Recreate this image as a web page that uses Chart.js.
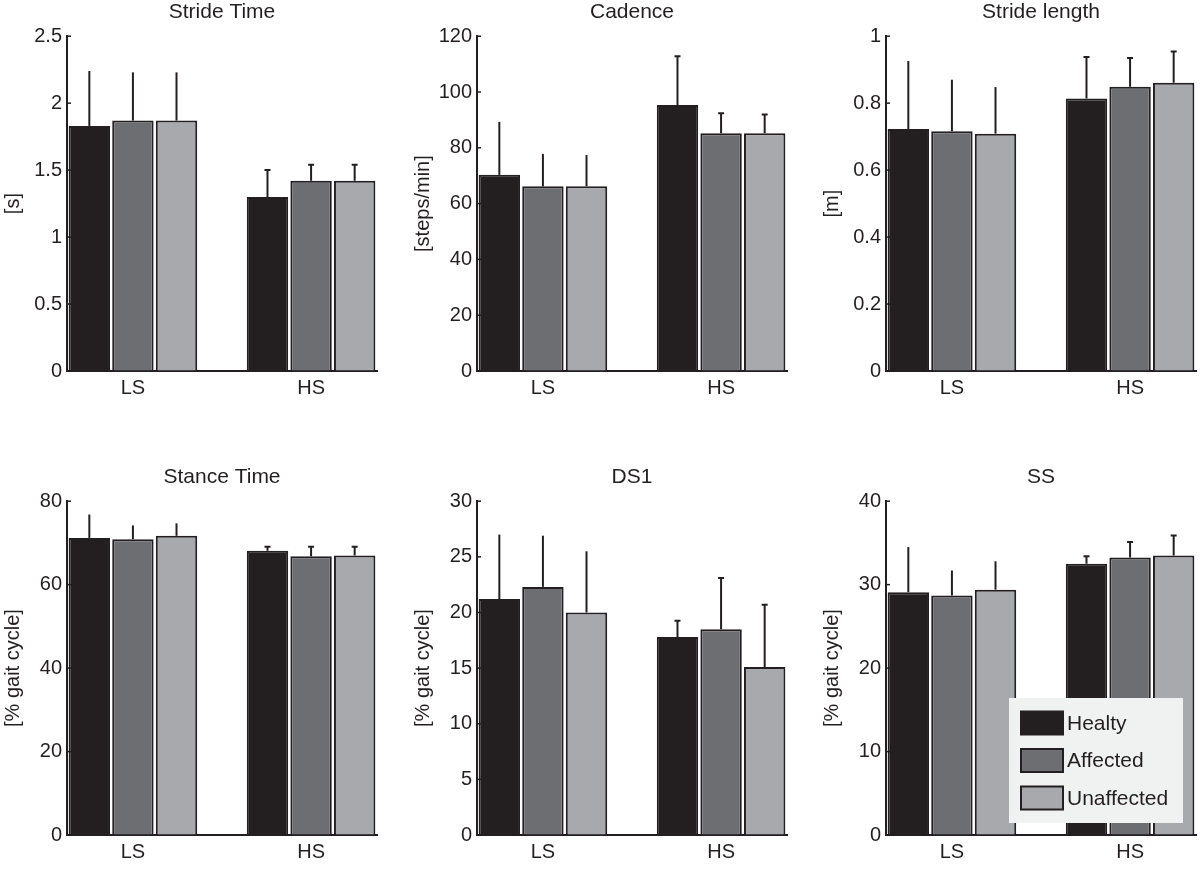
<!DOCTYPE html>
<html>
<head>
<meta charset="utf-8">
<script src="https://cdn.jsdelivr.net/npm/chart.js@4"></script>
<style>
  body { margin: 0; background: #fff; }
  #wrap { position: relative; width: 1200px; height: 869px; overflow: hidden; }
  canvas { position: absolute; }
</style>
</head>
<body>
<div id="wrap">
  <canvas id="c0" width="380" height="400" style="left:0;top:0"></canvas>
  <canvas id="c1" width="380" height="400" style="left:410px;top:0"></canvas>
  <canvas id="c2" width="380" height="400" style="left:819px;top:0"></canvas>
  <canvas id="c3" width="380" height="429" style="left:0;top:440px"></canvas>
  <canvas id="c4" width="380" height="429" style="left:410px;top:440px"></canvas>
  <canvas id="c5" width="380" height="429" style="left:819px;top:440px"></canvas>
</div>
<script>
const groups = ['LS', 'HS'];
const seriesNames = ['Healty', 'Affected', 'Unaffected'];
const seriesColors = ['#231f20', '#6d6e71', '#a7a9ac'];
const ink = '#231f20';

// means and SDs, one row per series (Healty, Affected, Unaffected), columns LS, HS
const strideTimeMean = [[1.83, 1.30], [1.87, 1.42], [1.87, 1.42]];
const strideTimeSD   = [[0.41, 0.20], [0.36, 0.12], [0.36, 0.12]];
const cadenceMean    = [[70.3, 95.3], [66.2, 85.2], [66.2, 85.2]];
const cadenceSD      = [[19.0, 17.5], [11.6, 7.2], [11.2, 6.7]];
const strideLenMean  = [[0.723, 0.814], [0.716, 0.849], [0.709, 0.861]];
const strideLenSD    = [[0.203, 0.124], [0.154, 0.086], [0.139, 0.093]];
const stanceMean     = [[71.2, 68.1], [70.9, 66.8], [71.7, 67.0]];
const stanceSD       = [[5.6, 1.0], [3.3, 2.3], [3.0, 2.1]];
const ds1Mean        = [[21.2, 17.8], [22.3, 18.5], [20.0, 15.1]];
const ds1SD          = [[5.8, 1.45], [4.6, 4.6], [5.5, 5.6]];
const ssMean         = [[29.1, 32.5], [28.7, 33.25], [29.4, 33.5]];
const ssSD           = [[5.4, 0.9], [3.0, 1.85], [3.4, 2.4]];

const panelTitles = ['Stride Time', 'Cadence', 'Stride length', 'Stance Time', 'DS1', 'SS'];
const yLabels = ['[s]', '[steps/min]', '[m]', '[% gait cycle]', '[% gait cycle]', '[% gait cycle]'];
const yMax  = [2.5, 120, 1, 80, 30, 40];
const yStep = [0.5, 20, 0.2, 20, 5, 10];

const means = [strideTimeMean, cadenceMean, strideLenMean, stanceMean, ds1Mean, ssMean];
const sds   = [strideTimeSD, cadenceSD, strideLenSD, stanceSD, ds1SD, ssSD];

Chart.defaults.font.family = "'Liberation Sans', Arial, Helvetica, sans-serif";
Chart.defaults.color = ink;

// upper error bars; MATLAB only shows the caps on the HS group here
const errorBars = {
  id: 'errorBars',
  afterDatasetsDraw(chart) {
    const ctx = chart.ctx;
    const ys = chart.scales.y;
    ctx.save();
    ctx.strokeStyle = ink;
    ctx.lineWidth = 2;
    chart.data.datasets.forEach((ds, i) => {
      chart.getDatasetMeta(i).data.forEach((bar, j) => {
        const top = ys.getPixelForValue(ds.data[j].y + ds.sd[j]);
        ctx.beginPath();
        ctx.moveTo(bar.x, bar.y);
        ctx.lineTo(bar.x, top);
        if (j === 1) {
          ctx.moveTo(bar.x - 3, top);
          ctx.lineTo(bar.x + 3, top);
        }
        ctx.stroke();
      });
    });
    ctx.restore();
  }
};

// small inward ticks on the y axis
const innerTicks = {
  id: 'innerTicks',
  beforeDatasetsDraw(chart) {
    const ctx = chart.ctx;
    const ys = chart.scales.y;
    const x = chart.chartArea.left;
    ctx.save();
    ctx.strokeStyle = ink;
    ctx.lineWidth = 1.5;
    ys.ticks.forEach((t, i) => {
      const py = ys.getPixelForTick(i);
      ctx.beginPath();
      ctx.moveTo(x, py);
      ctx.lineTo(x + 4, py);
      ctx.stroke();
    });
    ctx.restore();
  }
};

// legend box inside the last panel
const boxLegend = {
  id: 'boxLegend',
  afterDraw(chart) {
    const {ctx, chartArea} = chart;
    const w = 174, h = 125;
    const x0 = chartArea.right - 13 - w;
    const y0 = chartArea.bottom - 12 - h;
    ctx.save();
    ctx.fillStyle = '#f0f1f1';
    ctx.fillRect(x0, y0, w, h);
    ctx.font = "21px 'Liberation Sans', Arial, sans-serif";
    ctx.textBaseline = 'middle';
    chart.data.datasets.forEach((ds, i) => {
      const cy = y0 + 25 + i * 37.5;
      ctx.fillStyle = ds.backgroundColor;
      ctx.fillRect(x0 + 12, cy - 11.5, 42, 23);
      ctx.strokeStyle = ink;
      ctx.lineWidth = 2;
      ctx.strokeRect(x0 + 12, cy - 11.5, 42, 23);
      ctx.fillStyle = ink;
      ctx.fillText(ds.label, x0 + 58, cy + 1);
    });
    ctx.restore();
  }
};

function makePanel(k) {
  const row = k < 3 ? 0 : 1;
  const datasets = seriesNames.map((name, i) => ({
    label: name,
    data: groups.map((g, j) => ({x: j + 1, y: means[k][i][j]})),
    sd: sds[k][i],
    backgroundColor: seriesColors[i],
    borderColor: ink,
    borderWidth: 2,
    categoryPercentage: 0.734,
    barPercentage: 0.95
  }));
  const plugins = [innerTicks, errorBars];
  if (k === 5) plugins.push(boxLegend);

  new Chart(document.getElementById('c' + k), {
    type: 'bar',
    data: { datasets },
    plugins,
    options: {
      responsive: false,
      animation: false,
      layout: { padding: { left: 0, right: 3, top: 0, bottom: 0 } },
      plugins: {
        legend: { display: false },
        tooltip: { enabled: false },
        title: {
          display: true,
          text: panelTitles[k],
          fullSize: false,
          font: { size: 21, weight: 'normal' },
          color: ink,
          padding: row === 0 ? { top: 0, bottom: 11 } : { top: 25, bottom: 11 }
        }
      },
      scales: {
        x: {
          type: 'linear',
          offset: false,
          min: 0.63,
          max: 2.37,
          afterBuildTicks: s => { s.ticks = [{value: 1}, {value: 2}]; },
          afterFit: s => { s.height = row === 0 ? 29 : 34; },
          ticks: {
            callback: v => groups[Math.round(v) - 1],
            font: { size: 20 },
            color: ink,
            padding: 5,
            maxRotation: 0
          },
          grid: { offset: false, drawOnChartArea: false, drawTicks: false },
          border: { display: true, color: ink, width: 2 }
        },
        y: {
          min: 0,
          max: yMax[k],
          afterFit: s => { s.width = 67; },
          ticks: {
            stepSize: yStep[k],
            callback: v => String(Number(v.toFixed(2))),
            font: { size: 20 },
            color: ink,
            padding: 5
          },
          title: {
            display: true,
            text: yLabels[k],
            font: { size: 20 },
            color: ink,
            padding: { top: 1, bottom: 0 }
          },
          grid: { drawOnChartArea: false, drawTicks: false },
          border: { display: true, color: ink, width: 2 }
        }
      }
    }
  });
}

for (let k = 0; k < 6; k++) makePanel(k);
</script>
</body>
</html>
